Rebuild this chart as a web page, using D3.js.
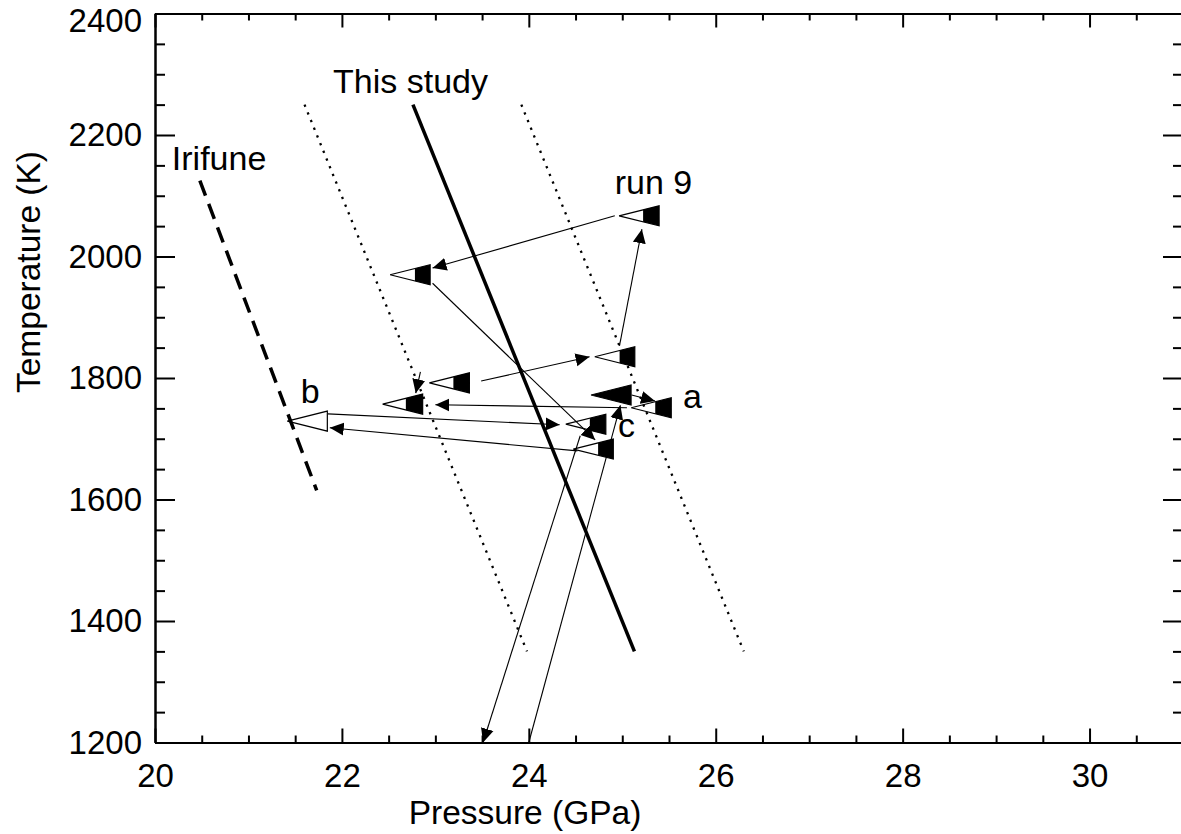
<!DOCTYPE html>
<html>
<head>
<meta charset="utf-8">
<script src="https://d3js.org/d3.v7.min.js"></script>
<style>
  body { margin: 0; background: #fff; }
  svg text { font-family: "Liberation Sans", Arial, sans-serif; fill: #000; }
</style>
</head>
<body>
<div id="grafico"></div>
<script>
// ticks de los ejes
var xTicks = [20, 22, 24, 26, 28, 30];
var yTicks = [1200, 1400, 1600, 1800, 2000, 2200, 2400];
var xMinor = [20.5, 21, 21.5, 22.5, 23, 23.5, 24.5, 25, 25.5, 26.5, 27, 27.5, 28.5, 29, 29.5, 30.5];
var yMinor = [1250, 1300, 1350, 1450, 1500, 1550, 1650, 1700, 1750, 1850, 1900, 1950, 2050, 2100, 2150, 2250, 2300, 2350];

// lineas: "This study", limites punteados, Irifune
var thisStudyP = [22.76, 25.13];
var thisStudyT = [2250, 1350];
var dotLeftP = [21.6, 23.98];
var dotRightP = [23.92, 26.3];
var dotT = [2250, 1350];
var irifuneP = [20.48, 21.73];
var irifuneT = [2125, 1615];

// simbolos (centro del triangulo) y fraccion rellena
var symP = [22.73, 25.18, 24.92, 23.15, 22.65, 21.63, 24.88, 25.31, 24.61, 24.69];
var symT = [1970, 2067, 1835, 1792, 1757, 1729, 1772, 1751, 1724, 1683];
var symFill = [0.38, 0.4, 0.38, 0.4, 0.42, 0, 1, 0.4, 0.4, 0.38];

// flechas: desde -> hasta
var arrowFromP = [24.92, 24.97, 22.97, 23.49, 22.84, 25.05, 21.85, 24.52, 25.10, 24.0, 24.55];
var arrowFromT = [2067, 1853, 1956, 1795, 1810, 1751, 1741, 1680, 1772, 1200, 1705];
var arrowToP = [22.97, 25.21, 24.71, 24.65, 22.79, 23.0, 24.33, 21.87, 25.35, 24.98, 23.51];
var arrowToT = [1981, 2045, 1698, 1835, 1775, 1756, 1723, 1718, 1762, 1755, 1200];

// etiquetas
var labelText = ["This study", "Irifune", "run 9", "b", "a", "c"];
var labelP = [21.905, 20.18, 24.92, 21.56, 25.65, 24.955];
var labelT = [2269, 2142, 2103, 1759, 1751, 1703];

var width = 1181;
var height = 834;

var svg = d3.select("#grafico")
  .append("svg")
  .attr("width", width)
  .attr("height", height);

var x = d3.scaleLinear().domain([20, 31]).range([155, 1183]);
var y = d3.scaleLinear().domain([1200, 2400]).range([742.5, 13.5]);

// marcador de flecha
svg.append("defs").append("marker")
  .attr("id", "head")
  .attr("markerUnits", "userSpaceOnUse")
  .attr("viewBox", "0 0 14 14")
  .attr("refX", 14)
  .attr("refY", 7)
  .attr("markerWidth", 14)
  .attr("markerHeight", 14)
  .attr("orient", "auto")
  .append("path")
  .attr("d", "M0,0.5 L14,7 L0,13.5 Z")
  .attr("fill", "#000");

// Ejes
function styleAxis(g) {
  g.select(".domain").attr("stroke", "#000").attr("stroke-width", 2);
  g.selectAll(".tick line").attr("stroke", "#000").attr("stroke-width", 2);
  g.selectAll(".tick text").attr("font-size", "33px").attr("fill", "#000");
}

svg.append("g")
  .attr("transform", "translate(0,742.5)")
  .call(d3.axisBottom(x).tickValues(xTicks).tickSize(-14).tickSizeOuter(0).tickPadding(21).tickFormat(d3.format("d")))
  .call(styleAxis);
svg.append("g")
  .attr("transform", "translate(0,742.5)")
  .call(d3.axisBottom(x).tickValues(xMinor).tickSize(-7).tickSizeOuter(0).tickFormat(""))
  .call(styleAxis);
svg.append("g")
  .attr("transform", "translate(0,13.5)")
  .call(d3.axisTop(x).tickValues(xTicks).tickSize(-14).tickSizeOuter(0).tickFormat(""))
  .call(styleAxis);
svg.append("g")
  .attr("transform", "translate(0,13.5)")
  .call(d3.axisTop(x).tickValues(xMinor).tickSize(-7).tickSizeOuter(0).tickFormat(""))
  .call(styleAxis);

var yAxisG = svg.append("g")
  .attr("transform", "translate(155,0)")
  .call(d3.axisLeft(y).tickValues(yTicks).tickSize(-20).tickSizeOuter(0).tickPadding(13).tickFormat(d3.format("d")))
  .call(styleAxis);
// la etiqueta de arriba baja un poco para que no se corte
yAxisG.selectAll(".tick text").filter(function(d) { return d === 2400; }).attr("dy", "0.55em");

svg.append("g")
  .attr("transform", "translate(155,0)")
  .call(d3.axisLeft(y).tickValues(yMinor).tickSize(-10).tickSizeOuter(0).tickFormat(""))
  .call(styleAxis);
svg.append("g")
  .attr("transform", "translate(1183,0)")
  .call(d3.axisRight(y).tickValues(yTicks).tickSize(-20).tickSizeOuter(0).tickFormat(""))
  .call(styleAxis);
svg.append("g")
  .attr("transform", "translate(1183,0)")
  .call(d3.axisRight(y).tickValues(yMinor).tickSize(-10).tickSizeOuter(0).tickFormat(""))
  .call(styleAxis);

// titulos de ejes
svg.append("text")
  .attr("x", 525)
  .attr("y", 824)
  .attr("text-anchor", "middle")
  .attr("font-size", "33.5px")
  .text("Pressure (GPa)");
svg.append("text")
  .attr("transform", "translate(40,272) rotate(-90)")
  .attr("text-anchor", "middle")
  .attr("font-size", "33.5px")
  .text("Temperature (K)");

// lineas de fase
function drawLine(ps, ts, w, dash) {
  svg.append("line")
    .attr("x1", x(ps[0])).attr("y1", y(ts[0]))
    .attr("x2", x(ps[1])).attr("y2", y(ts[1]))
    .attr("stroke", "#000")
    .attr("stroke-width", w)
    .attr("stroke-dasharray", dash);
}
drawLine(thisStudyP, thisStudyT, 3.5, null);
drawLine(dotLeftP, dotT, 2.3, "2.3,6");
drawLine(dotRightP, dotT, 2.3, "2.3,6");
drawLine(irifuneP, irifuneT, 3.5, "16,9");

// flechas
for (var i = 0; i < arrowFromP.length; i++) {
  svg.append("line")
    .attr("x1", x(arrowFromP[i])).attr("y1", y(arrowFromT[i]))
    .attr("x2", x(arrowToP[i])).attr("y2", y(arrowToT[i]))
    .attr("stroke", "#000")
    .attr("stroke-width", 1.1)
    .attr("marker-end", "url(#head)");
}

// simbolos: triangulo hacia la izquierda, parte derecha rellena
var hw = 20, hh = 10;
for (var j = 0; j < symP.length; j++) {
  var cx = x(symP[j]), cy = y(symT[j]);
  var tip = cx - hw, base = cx + hw;
  if (symFill[j] > 0) {
    var x0 = base - symFill[j] * 2 * hw;
    var h0 = hh * (x0 - tip) / (2 * hw);
    svg.append("path")
      .attr("d", "M" + x0 + "," + (cy - h0) + " L" + base + "," + (cy - hh) +
        " L" + base + "," + (cy + hh) + " L" + x0 + "," + (cy + h0) + " Z")
      .attr("fill", "#000");
  }
  svg.append("path")
    .attr("d", "M" + tip + "," + cy + " L" + base + "," + (cy - hh) + " L" + base + "," + (cy + hh) + " Z")
    .attr("fill", "none")
    .attr("stroke", "#000")
    .attr("stroke-width", 1.2);
}

// etiquetas
for (var k = 0; k < labelText.length; k++) {
  svg.append("text")
    .attr("x", x(labelP[k]))
    .attr("y", y(labelT[k]))
    .attr("font-size", "34px")
    .text(labelText[k]);
}
</script>
</body>
</html>
